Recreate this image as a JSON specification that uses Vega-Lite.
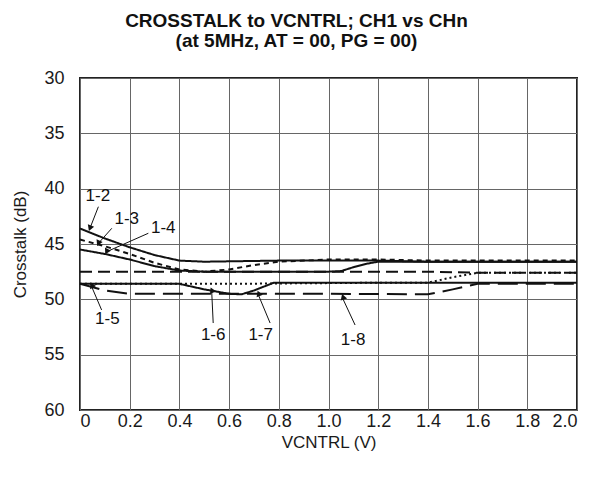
{
  "$schema": "https://vega.github.io/schema/vega-lite/v6.json",
  "width": 497,
  "height": 332,
  "autosize": "none",
  "padding": {"left": 80, "top": 78, "right": 14, "bottom": 74},
  "background": "white",
  "config": {
    "font": "Liberation Sans",
    "view": {"stroke": "#222", "strokeWidth": 2},
    "axis": {"gridColor": "#666", "gridWidth": 1, "gridOpacity": 1, "domain": false, "ticks": false, "labelColor": "#1a1a1a", "titleColor": "#1a1a1a", "labelFont": "Liberation Sans", "titleFont": "Liberation Sans", "titleFontWeight": "normal"}
  },
  "title": {
    "text": ["CROSSTALK to VCNTRL; CH1 vs CHn", "(at 5MHz, AT = 00, PG = 00)"],
    "anchor": "middle",
    "frame": "bounds",
    "fontSize": 19,
    "fontWeight": "bold",
    "font": "Liberation Sans",
    "color": "#111",
    "lineHeight": 20,
    "offset": 18
  },
  "datasets": {
    "curves": [
      {"s": "1-2", "v": 0, "db": 43.6}, {"s": "1-2", "v": 0.1, "db": 44.5}, {"s": "1-2", "v": 0.2, "db": 45.3}, {"s": "1-2", "v": 0.3, "db": 46.0}, {"s": "1-2", "v": 0.4, "db": 46.5}, {"s": "1-2", "v": 0.5, "db": 46.6}, {"s": "1-2", "v": 0.8, "db": 46.5}, {"s": "1-2", "v": 1.0, "db": 46.5}, {"s": "1-2", "v": 1.2, "db": 46.5}, {"s": "1-2", "v": 1.4, "db": 46.6}, {"s": "1-2", "v": 1.6, "db": 46.6}, {"s": "1-2", "v": 2.0, "db": 46.6},
      {"s": "1-3", "v": 0, "db": 44.6}, {"s": "1-3", "v": 0.1, "db": 45.2}, {"s": "1-3", "v": 0.2, "db": 45.9}, {"s": "1-3", "v": 0.3, "db": 46.7}, {"s": "1-3", "v": 0.4, "db": 47.3}, {"s": "1-3", "v": 0.5, "db": 47.5}, {"s": "1-3", "v": 0.6, "db": 47.3}, {"s": "1-3", "v": 0.7, "db": 46.9}, {"s": "1-3", "v": 0.8, "db": 46.6}, {"s": "1-3", "v": 1.0, "db": 46.4}, {"s": "1-3", "v": 1.2, "db": 46.4}, {"s": "1-3", "v": 1.4, "db": 46.5}, {"s": "1-3", "v": 2.0, "db": 46.5},
      {"s": "1-4", "v": 0, "db": 45.5}, {"s": "1-4", "v": 0.1, "db": 45.9}, {"s": "1-4", "v": 0.2, "db": 46.4}, {"s": "1-4", "v": 0.3, "db": 47.0}, {"s": "1-4", "v": 0.4, "db": 47.4}, {"s": "1-4", "v": 0.5, "db": 47.5}, {"s": "1-4", "v": 1.0, "db": 47.5}, {"s": "1-4", "v": 1.05, "db": 47.45}, {"s": "1-4", "v": 1.1, "db": 47.1}, {"s": "1-4", "v": 1.15, "db": 46.8}, {"s": "1-4", "v": 1.2, "db": 46.6}, {"s": "1-4", "v": 1.4, "db": 46.6}, {"s": "1-4", "v": 2.0, "db": 46.6},
      {"s": "1-5", "v": 0, "db": 47.5}, {"s": "1-5", "v": 0.4, "db": 47.5}, {"s": "1-5", "v": 1.0, "db": 47.5}, {"s": "1-5", "v": 1.4, "db": 47.5}, {"s": "1-5", "v": 1.6, "db": 47.6}, {"s": "1-5", "v": 2.0, "db": 47.6},
      {"s": "1-6", "v": 0, "db": 48.6}, {"s": "1-6", "v": 0.6, "db": 48.6}, {"s": "1-6", "v": 1.2, "db": 48.5}, {"s": "1-6", "v": 1.4, "db": 48.5}, {"s": "1-6", "v": 1.5, "db": 48.0}, {"s": "1-6", "v": 1.6, "db": 47.6}, {"s": "1-6", "v": 2.0, "db": 47.6},
      {"s": "1-7", "v": 0, "db": 48.6}, {"s": "1-7", "v": 0.4, "db": 48.6}, {"s": "1-7", "v": 0.5, "db": 49.1}, {"s": "1-7", "v": 0.6, "db": 49.5}, {"s": "1-7", "v": 0.65, "db": 49.55}, {"s": "1-7", "v": 0.7, "db": 49.2}, {"s": "1-7", "v": 0.78, "db": 48.5}, {"s": "1-7", "v": 1.0, "db": 48.5}, {"s": "1-7", "v": 2.0, "db": 48.5},
      {"s": "1-8", "v": 0, "db": 48.6}, {"s": "1-8", "v": 0.1, "db": 49.2}, {"s": "1-8", "v": 0.2, "db": 49.5}, {"s": "1-8", "v": 1.0, "db": 49.5}, {"s": "1-8", "v": 1.4, "db": 49.55}, {"s": "1-8", "v": 1.5, "db": 49.1}, {"s": "1-8", "v": 1.6, "db": 48.6}, {"s": "1-8", "v": 2.0, "db": 48.6}
    ],
    "arrows": [
      {"s": "1-2", "v": 0.074, "db": 41.63, "v2": 0.040, "db2": 43.58},
      {"s": "1-3", "v": 0.128, "db": 43.58, "v2": 0.074, "db2": 44.94},
      {"s": "1-4", "v": 0.275, "db": 44.03, "v2": 0.107, "db2": 45.70},
      {"s": "1-5", "v": 0.087, "db": 50.96, "v2": 0.047, "db2": 48.86},
      {"s": "1-6", "v": 0.536, "db": 52.14, "v2": 0.530, "db2": 49.31},
      {"s": "1-7", "v": 0.765, "db": 52.14, "v2": 0.718, "db2": 49.61},
      {"s": "1-8", "v": 1.107, "db": 52.32, "v2": 1.057, "db2": 49.91}
    ],
    "labels": [
      {"s": "1-2", "v": 0.072, "db": 40.66},
      {"s": "1-3", "v": 0.188, "db": 42.77},
      {"s": "1-4", "v": 0.335, "db": 43.58},
      {"s": "1-5", "v": 0.110, "db": 51.80},
      {"s": "1-6", "v": 0.536, "db": 53.22},
      {"s": "1-7", "v": 0.727, "db": 53.22},
      {"s": "1-8", "v": 1.099, "db": 53.67}
    ]
  },
  "layer": [
    {
      "data": {"name": "curves"},
      "mark": {"type": "line", "color": "#111", "strokeCap": "butt"},
      "encoding": {
        "x": {"field": "v", "type": "quantitative", "scale": {"domain": [0, 2]},
          "axis": {"values": [0, 0.2, 0.4, 0.6, 0.8, 1.0, 1.2, 1.4, 1.6, 1.8, 2.0], "labelExpr": "datum.value == 0 ? '0' : format(datum.value, '.1f')", "labelFontSize": 18, "labelPadding": 2, "title": "VCNTRL (V)", "titleFontSize": 17, "titlePadding": 4}},
        "y": {"field": "db", "type": "quantitative", "scale": {"domain": [60, 30]},
          "axis": {"values": [30, 35, 40, 45, 50, 55, 60], "labelFontSize": 18, "labelPadding": 16, "title": "Crosstalk (dB)", "titleFontSize": 17, "titlePadding": 14}},
        "detail": {"field": "s"},
        "strokeDash": {"field": "s", "type": "nominal", "legend": null,
          "scale": {"domain": ["1-2", "1-3", "1-4", "1-5", "1-6", "1-7", "1-8"], "range": [[1, 0], [5, 4], [1, 0], [12, 6], [2, 3], [1, 0], [20, 8]]}},
        "strokeWidth": {"field": "s", "type": "nominal", "legend": null,
          "scale": {"domain": ["1-2", "1-3", "1-4", "1-5", "1-6", "1-7", "1-8"], "range": [2, 2, 1.6, 2, 1.6, 1, 2.5]}}
      }
    },
    {
      "data": {"name": "arrows"},
      "mark": {"type": "rule", "color": "#111", "strokeWidth": 1},
      "encoding": {
        "x": {"field": "v", "type": "quantitative"},
        "y": {"field": "db", "type": "quantitative"},
        "x2": {"field": "v2"},
        "y2": {"field": "db2"}
      }
    },
    {
      "data": {"name": "arrows"},
      "mark": {"type": "point", "shape": "triangle-up", "filled": true, "color": "#111", "opacity": 1, "size": 45},
      "encoding": {
        "x": {"field": "v2", "type": "quantitative"},
        "y": {"field": "db2", "type": "quantitative"},
        "angle": {"field": "s", "type": "nominal", "legend": null,
          "scale": {"domain": ["1-2", "1-3", "1-4", "1-5", "1-6", "1-7", "1-8"], "range": [201, 222, 246, 337, 357, 337, 335]}}
      }
    },
    {
      "data": {"name": "labels"},
      "mark": {"type": "text", "fontSize": 17, "color": "#111", "font": "Liberation Sans"},
      "encoding": {
        "x": {"field": "v", "type": "quantitative"},
        "y": {"field": "db", "type": "quantitative"},
        "text": {"field": "s"}
      }
    }
  ]
}
